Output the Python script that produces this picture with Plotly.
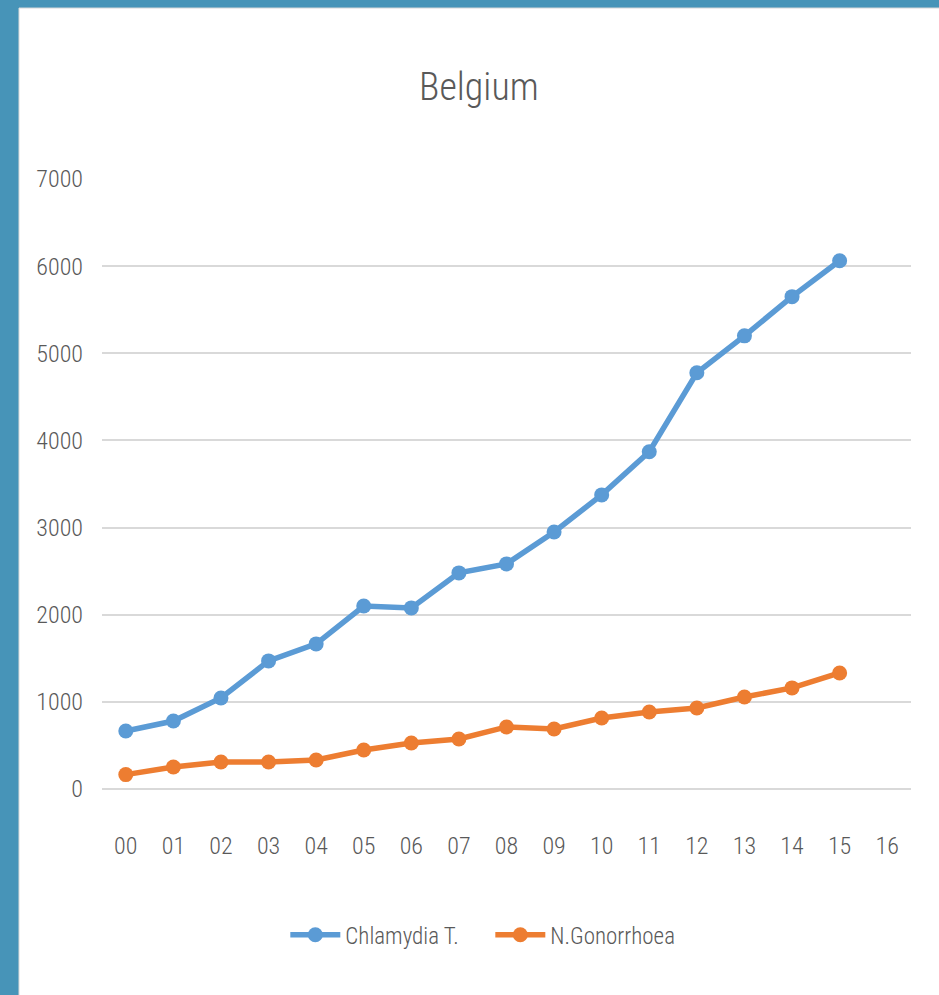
import plotly.graph_objects as go

years = ["00", "01", "02", "03", "04", "05", "06", "07", "08", "09",
         "10", "11", "12", "13", "14", "15", "16"]
chlamydia = [666, 780, 1045, 1470, 1665, 2100, 2078, 2480, 2583, 2950,
             3375, 3870, 4776, 5200, 5650, 6062]
gonorrhoea = [165, 253, 310, 310, 333, 448, 528, 574, 712, 689,
              815, 884, 930, 1056, 1160, 1332]
y_ticks = [0, 1000, 2000, 3000, 4000, 5000, 6000, 7000]

FONT = "Roboto Condensed, Liberation Sans, sans-serif"
GREY = "#595959"

fig = go.Figure()

fig.add_trace(go.Scatter(
    x=years[:len(chlamydia)], y=chlamydia, name="Chlamydia T.",
    mode="lines+markers",
    line=dict(color="#5B9BD5", width=5.5),
    marker=dict(color="#5B9BD5", size=15)
))
fig.add_trace(go.Scatter(
    x=years[:len(gonorrhoea)], y=gonorrhoea, name="N.Gonorrhoea",
    mode="lines+markers",
    line=dict(color="#ED7D31", width=5.5),
    marker=dict(color="#ED7D31", size=15)
))

# white slide panel on the blue frame (plot area spans x 102..911, y 179..789 px)
fig.add_shape(type="rect", xref="paper", yref="paper", layer="below",
              x0=-0.1026, x1=1.04, y0=-0.40, y1=1.2803,
              fillcolor="white", line=dict(color="#d9d9d9", width=1))

fig.update_layout(
    width=939, height=995,
    margin=dict(l=102, r=28, t=179, b=206),
    paper_bgcolor="#4794B8",
    plot_bgcolor="rgba(0,0,0,0)",
    font=dict(family=FONT, color=GREY, size=24, weight=300),
    title=dict(text="Belgium", x=0.51, xanchor="center",
               y=1 - 87 / 995, yanchor="middle", yref="container",
               font=dict(family=FONT, size=38, color=GREY, weight=300)),
    showlegend=True,
    legend=dict(orientation="h", x=0.48, xanchor="center",
                y=-0.239, yanchor="middle",
                itemwidth=50, entrywidth=140, entrywidthmode="pixels",
                font=dict(family=FONT, size=23, color=GREY, weight=300),
                bgcolor="rgba(0,0,0,0)"),
    xaxis=dict(type="category", categoryorder="array", categoryarray=years,
               range=[-0.5, len(years) - 0.5],
               showgrid=False, showline=False, zeroline=False,
               tickfont=dict(size=24, color=GREY, weight=300), ticklabelstandoff=40),
    yaxis=dict(range=[0, 7000], tickvals=y_ticks,
               showgrid=True, gridcolor="#d9d9d9", gridwidth=1.5,
               zeroline=True, zerolinecolor="#d9d9d9", zerolinewidth=1.5,
               showline=False,
               tickfont=dict(size=24, color=GREY, weight=300), ticklabelstandoff=18),
)

fig.write_html("out.html", config={"displayModeBar": False},
               post_script="document.body.style.margin='0';")
